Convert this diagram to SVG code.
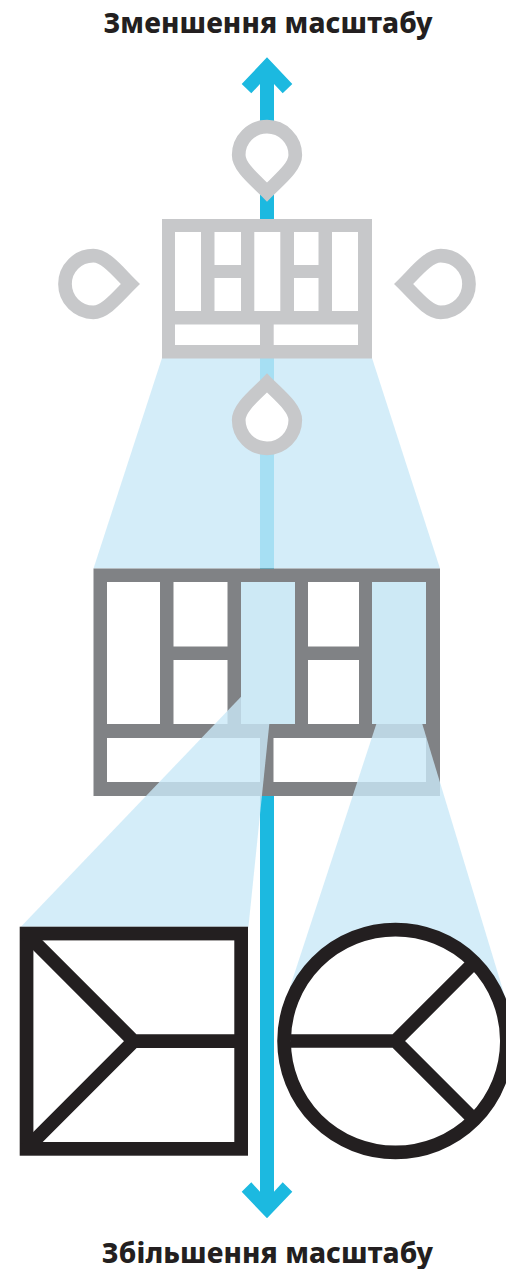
<svg xmlns="http://www.w3.org/2000/svg" width="506" height="1269" viewBox="0 0 506 1269">
<style>
.title{font-family:"Noto Sans","Open Sans","DejaVu Sans",sans-serif;font-weight:800;font-size:28px;fill:#231f20;letter-spacing:.1px}
.trunk{fill:#1cb9e0}
.funnel{fill:#c9e8f7;fill-opacity:.8}
.cell{fill:#fff}
.hi{fill:#cde9f5}
.drop{fill:#fff;stroke:#c7c8ca;stroke-width:13.7;stroke-miterlimit:10}
.dark{fill:none;stroke:#231f20;stroke-width:13.7;stroke-miterlimit:10}
</style>
<defs>
<path id="drop" class="drop" d="M0 37C-13 24-28.3 12-28.3 0A28.3 28.3 0 0 1 28.3 0C28.3 12 13 24 0 37Z"/>
</defs>
<g id="connectors">
<polygon class="trunk" points="267,57.3 292.3,84 282.7,93.3 274,84 274,1191.7 282.7,1182.3 292.3,1191.7 267,1218.3 241.7,1191.7 251.3,1182.3 260,1191.7 260,84 251.3,93.3 241.7,84"/>
</g>
<polygon id="funnel-top" class="funnel" points="162,358 372,358 440,568.5 93.5,568.5"/>
<g id="grid-top">
<rect x="162" y="219" width="210" height="139.5" fill="#c7c8ca"/>
<rect class="cell" x="175" y="232" width="26" height="79"/>
<rect class="cell" x="214.5" y="232" width="26.5" height="33"/>
<rect class="cell" x="214.5" y="278" width="26.5" height="33"/>
<rect class="cell" x="254.3" y="232" width="26" height="79"/>
<rect class="cell" x="294" y="232" width="24.5" height="33"/>
<rect class="cell" x="294" y="278" width="24.5" height="33"/>
<rect class="cell" x="332" y="232" width="26" height="79"/>
<rect class="cell" x="175" y="324.5" width="85" height="20.5"/>
<rect class="cell" x="273.7" y="324.5" width="84.3" height="20.5"/>
</g>
<g id="grid-mid">
<rect x="93.5" y="568.5" width="346.5" height="227.5" fill="#808285"/>
<rect class="cell" x="107" y="582" width="53" height="142"/>
<rect class="cell" x="173.5" y="582" width="54" height="64.5"/>
<rect class="cell" x="173.5" y="660" width="54" height="64"/>
<rect class="cell" x="241" y="582" width="54" height="142"/>
<rect class="cell" x="308" y="582" width="51" height="64.5"/>
<rect class="cell" x="308" y="660" width="51" height="64"/>
<rect class="cell" x="372" y="582" width="54" height="142"/>
<rect class="cell" x="107" y="738" width="153" height="44"/>
<rect class="cell" x="273.5" y="738" width="152.5" height="44"/>
</g>
<polygon id="funnel-left" class="funnel" points="241,696.7 269.3,724 248.3,928 19.7,928"/>
<polygon id="funnel-right" class="funnel" points="376.3,724 422.3,724 506,1000 395,1041 290,987"/>
<rect id="cell-hi-a" class="hi" x="241" y="582" width="54" height="142"/>
<rect id="cell-hi-b" class="hi" x="372" y="582" width="54" height="142"/>
<g id="drop-top"><use href="#drop" transform="translate(267 155)"/></g>
<g id="drop-bottom"><use href="#drop" transform="translate(267 420) rotate(180)"/></g>
<g id="drop-left"><use href="#drop" transform="translate(93.3 284) rotate(-90)"/></g>
<g id="drop-right"><use href="#drop" transform="translate(440.7 284) rotate(90)"/></g>
<g id="square">
<rect x="19.7" y="926.7" width="228.3" height="229" fill="#fff"/>
<rect class="dark" x="26.55" y="933.55" width="214.6" height="215.3"/>
<path class="dark" d="M26.6 934L133.7 1041.2L26.6 1148.4M133.7 1041.2H241"/>
</g>
<g id="circle">
<circle class="dark" style="fill:#fff" cx="395.5" cy="1041" r="111.4"/>
<path class="dark" d="M476 960.5L395.5 1041L476 1121.5M395.5 1041H291"/>
</g>
<text class="title" x="268" y="33" text-anchor="middle">Зменшення масштабу</text>
<text class="title" x="267.5" y="1262.5" text-anchor="middle">Збільшення масштабу</text>
</svg>
